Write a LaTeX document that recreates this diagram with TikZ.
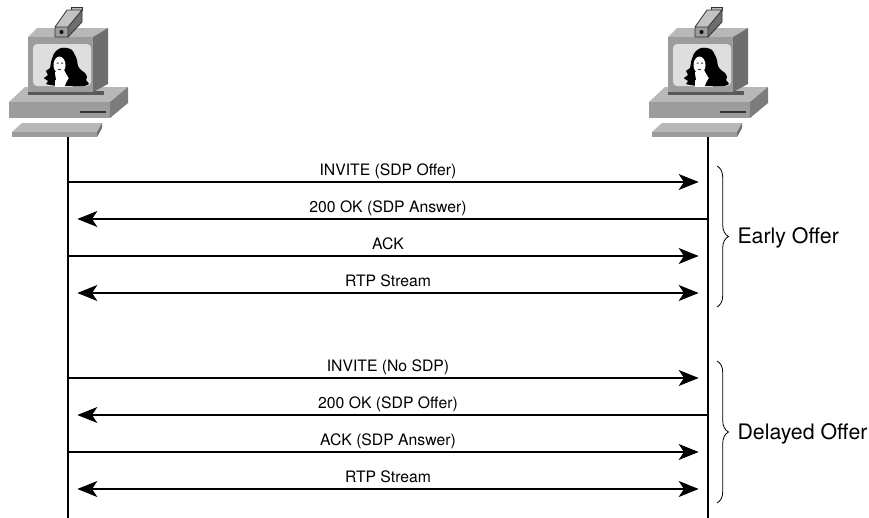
\documentclass[tikz,border=0pt]{standalone}
\usepackage{fontspec}
\setmainfont{TeX Gyre Heros}
\usetikzlibrary{arrows.meta,decorations.pathreplacing}

\definecolor{pclight}{RGB}{184,184,184}
\definecolor{pcmid}{RGB}{156,156,156}
\definecolor{pcdark}{RGB}{110,110,110}
\definecolor{pcscreen}{RGB}{222,222,222}

\tikzset{every picture/.style={line width=0.75pt}}
\tikzset{
  lifeline/.style={line width=1.3pt},
  msg/.style={line width=1pt,-{Stealth[length=15pt,width=12pt,inset=4pt]},shorten >=7pt},
  rtp/.style={line width=1.5pt,{Stealth[length=15pt,width=12pt,inset=4pt]}-{Stealth[length=15pt,width=12pt,inset=4pt]},shorten >=7pt,shorten <=7pt},
  lbl/.style={anchor=base,font=\fontsize{11.8}{14}\selectfont,inner sep=0pt},
  grp/.style={anchor=base west,font=\fontsize{16}{19}\selectfont,inner sep=0pt},
  bracket/.style={line width=0.6pt,decorate,decoration={brace,amplitude=8.6pt}},
}

% desktop with a camera on the monitor, #1 = horizontal offset
\newcommand\videopc[1]{%
  \begin{scope}[shift={(#1,0)}]
    % base unit
    \fill[pclight] (9,102) -- (25,87) -- (128,87) -- (110,102) -- cycle;
    \fill[pcmid] (9,102) rectangle (110,118);
    \fill[pcdark!90] (110,102) -- (128,87) -- (128,103) -- (110,118) -- cycle;
    \draw[line width=1.2pt,black!80] (80,112) -- (106,112);
    % keyboard
    \fill[pclight] (12,132) -- (22,123) -- (102,123) -- (97,132) -- cycle;
    \fill[pcmid] (12,132) rectangle (97,137);
    \fill[pcdark] (97,132) -- (102,123) -- (102,128) -- (97,137) -- cycle;
    % monitor
    \fill[black!65] (28,91) rectangle (104,95);
    \fill[pclight] (28,37) -- (37,28) -- (108,28) -- (93,37) -- cycle;
    \fill[pcdark] (93,37) -- (108,28) -- (108,84) -- (93,92) -- cycle;
    \fill[pcmid] (28,37) rectangle (93,92);
    \fill[pcscreen,rounded corners=3pt] (33,44) rectangle (91,86);
    \begin{scope}
      \clip (33,44) rectangle (91,86);
      % hair
      \fill[black] plot[smooth cycle] coordinates {(56,51) (61,48) (67,48) (72,50) (75,55) (77,60)
        (78,66) (81,70) (85,73) (87,77) (86,80) (89,84) (84,86) (76,86) (66,86) (57,86) (51,85)
        (46,84) (48,81) (44,78) (48,75) (46,71) (50,68) (51,62) (53,56)};
      % face and shoulders
      \fill[white] (55,72) -- (64,70) -- (68,77) -- (73,87) -- (55,87) -- cycle;
      \fill[white] (59.5,65) ellipse [x radius=6, y radius=8.5];
      \fill[black] (53,58) .. controls (57,55) and (62,55) .. (66,58) -- (67,53) -- (54,53) -- cycle;
      \fill[black] (65,86) .. controls (67,80) and (69,77) .. (73,76) -- (76,86) -- cycle;
      \fill[black] (54,80) .. controls (52,78) and (51,76) .. (52,73) -- (55,74) -- (56,80) -- cycle;
      \fill[black!80] (56.5,62.5) rectangle (58.5,63.5) (61,62.5) rectangle (63,63.5) (58,69) rectangle (61,69.8);
    \end{scope}
    % camera
    \fill[pclight] (71,7) rectangle (82,10);
    \draw[black!80,line width=0.5pt] (71,7) rectangle (82,10);
    \fill[pclight!85] (55,27) -- (67,10) -- (82,10) -- (68,27) -- cycle;
    \fill[pcdark] (68,27) -- (82,10) -- (82,22) -- (68,37) -- cycle;
    \fill[pcmid] (55,27) rectangle (68,37);
    \draw[black!80,line width=0.6pt] (55,27) -- (67,10) -- (82,10) -- (82,22) -- (68,37) -- (55,37) -- cycle
      (55,27) -- (68,27) -- (82,10) (68,27) -- (68,37);
    \fill[black] (61.5,32) circle [radius=2];
  \end{scope}}

\begin{document}
\begin{tikzpicture}[x=0.75pt,y=0.75pt,yscale=-1,xscale=1]
\useasboundingbox (0,0) rectangle (869,518);

% Hosts
\videopc{0}
\videopc{640}

% Lifelines
\coordinate (hostA) at (68,137);
\coordinate (hostB) at (708,137);
\coordinate (endA) at (68,518);
\coordinate (endB) at (708,518);
\draw[lifeline] (hostA) -- (endA);
\draw[lifeline] (hostB) -- (endB);

\foreach \r/\y in {1/182,2/219,3/256,4/293,5/378,6/415,7/452,8/489}{
  \coordinate (A\r) at (68,\y);
  \coordinate (B\r) at (708,\y);
  \coordinate (T\r) at (388,\y-7);
}

% Early offer
\draw[msg] (A1) -- (B1);
\node[lbl] (inv1) at (T1) {INVITE (SDP Offer)};
\draw[msg] (B2) -- (A2);
\node[lbl] (ok1) at (T2) {200 OK (SDP Answer)};
\draw[msg] (A3) -- (B3);
\node[lbl] (ack1) at (T3) {ACK};
\draw[rtp] (A4) -- (B4);
\node[lbl] (rtp1) at (T4) {RTP Stream};

% Delayed offer
\draw[msg] (A5) -- (B5);
\node[lbl] (inv2) at (T5) {INVITE (No SDP)};
\draw[msg] (B6) -- (A6);
\node[lbl] (ok2) at (T6) {200 OK (SDP Offer)};
\draw[msg] (A7) -- (B7);
\node[lbl] (ack2) at (T7) {ACK (SDP Answer)};
\draw[rtp] (A8) -- (B8);
\node[lbl] (rtp2) at (T8) {RTP Stream};

% Braces
\coordinate (early top) at (717,166);
\coordinate (early bot) at (717,307);
\coordinate (late top) at (717,361);
\coordinate (late bot) at (717,503);
\draw[bracket] (early top) -- (early bot);
\draw[bracket] (late top) -- (late bot);
\node[grp] (early) at (737,243.5) {Early Offer};
\node[grp] (late) at (737,439.5) {Delayed Offer};

\end{tikzpicture}
\end{document}
